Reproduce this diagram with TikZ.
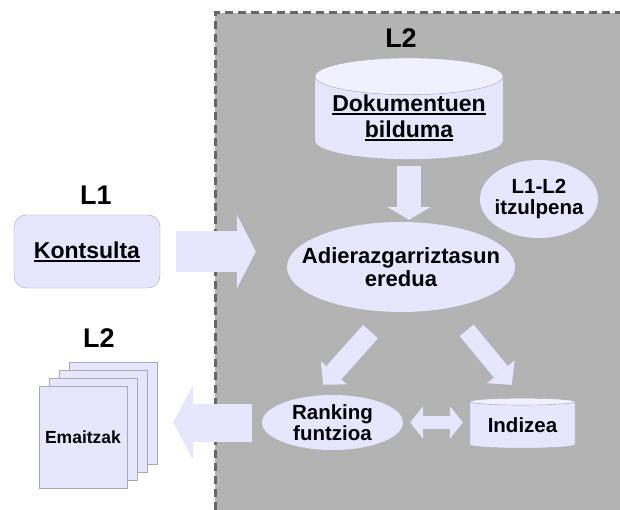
\documentclass[tikz,border=0pt]{standalone}
\usepackage{fontspec}
\setsansfont{Liberation Sans}
\usetikzlibrary{shapes.geometric,arrows.meta,calc}
\definecolor{lavblue}{RGB}{230,230,255}
\definecolor{lavtop}{RGB}{240,240,255}
\definecolor{areagray}{RGB}{179,179,179}
\definecolor{dashgray}{RGB}{102,102,102}
\definecolor{edgegray}{RGB}{170,170,170}
\newcommand{\zw}[1]{\makebox[0pt]{#1}}
\newcommand{\undl}[1]{\setbox0\hbox{#1}\rlap{\rule[-3.5pt]{\wd0}{1.8pt}}\box0}
\tikzset{
    title/.style = {font=\sffamily\bfseries\fontsize{27}{30}\selectfont},
    bigtxt/.style = {font=\sffamily\bfseries\fontsize{23}{26}\selectfont},
    midtxt/.style = {font=\sffamily\bfseries\fontsize{20.5}{21.5}\selectfont},
    bubble/.style = {ellipse, fill=lavblue, inner sep=0pt, align=center, midtxt},
    dbcyl/.style = {cylinder, shape border rotate=90, draw=edgegray, thin,
        cylinder uses custom fill, cylinder body fill=lavblue,
        cylinder end fill=lavtop, inner sep=0pt, align=center},
    page/.style = {rectangle, fill=lavblue, draw=edgegray,
        minimum width=88pt, minimum height=102pt, inner sep=0pt},
    blockarrow/.style n args = {3}{draw=lavblue, line width=#1,
        -{Triangle[width=#2, length=#3, line width=0pt]}},
    twoarrow/.style n args = {3}{draw=lavblue, line width=#1,
        {Triangle[width=#2, length=#3, line width=0pt]}-{Triangle[width=#2, length=#3, line width=0pt]}}
}
\begin{document}
\begin{tikzpicture}[x=1pt, y=-1pt]
    \useasboundingbox (0,0) rectangle (620,510);
    % L2 side
    \fill[areagray] (215,13) rectangle (620,510);
    \draw[dashgray, line width=3pt, dash pattern=on 8pt off 5pt] (215,510) -- (215,13) -- (620,13);
    \node[title] (l2top) at (401,38) {L2};
    \node[dbcyl, bigtxt, minimum width=188pt, minimum height=100pt, aspect=0.24] (bilduma) at (409,118)
        {\undl{Dokumentuen}\\\undl{bilduma}};
    \node[bubble, font=\sffamily\bfseries\fontsize{22}{23}\selectfont,
        minimum width=228pt, minimum height=90pt] (eredua) at (401,267)
        {\zw{Adierazgarriztasun}\\\zw{eredua}};
    \node[bubble, minimum width=118pt, minimum height=78pt] (itzulpena) at (539,199)
        {\zw{L1-L2}\\\zw{itzulpena}};
    \node[bubble, minimum width=141pt, minimum height=55pt] (ranking) at (332.5,422.5)
        {\zw{Ranking}\\\zw{funtzioa}};
    \node[dbcyl, midtxt, minimum width=105pt, minimum height=50pt, aspect=0.1] (indizea) at (522.5,425)
        {Indizea};
    % L1 side
    \node[title] (l1) at (96,195) {L1};
    \node[rectangle, rounded corners=12pt, fill=lavblue, draw=edgegray, bigtxt,
        minimum width=146pt, minimum height=73pt] (kontsulta) at (87,251.5) {\undl{Kontsulta}};
    \node[title] (l2left) at (99,338) {L2};
    \foreach \i in {3,2,1}
        \node[page] (page\i) at ({83+10*\i},{437-8*\i}) {};
    \node[page, font=\sffamily\bfseries\fontsize{17.5}{20}\selectfont] (emaitzak) at (83,437) {Emaitzak};
    % block arrows
    \draw[blockarrow={40pt}{74pt}{19pt}, shorten <=16pt, shorten >=31pt] (kontsulta.east) -- (kontsulta.east -| eredua.west);
    \draw[blockarrow={24pt}{44pt}{13pt}, shorten <=6pt, shorten >=2pt] (bilduma.south) -- (bilduma.south |- eredua.north);
    \draw[blockarrow={20pt}{35pt}{16pt}, shorten <=26.5pt, shorten >=15pt] (eredua.-106.6) -- (ranking.126.9);
    \draw[blockarrow={18pt}{36pt}{17pt}, shorten <=28.8pt, shorten >=17pt] (eredua.-41.9) -- (indizea.north);
    \draw[blockarrow={38pt}{75pt}{20pt}, shorten <=10pt, shorten >=16pt] (ranking.west) -- (ranking.west -| page3.east);
    \draw[twoarrow={13pt}{33pt}{13pt}, shorten <=7pt, shorten >=7pt] (ranking.east) -- (ranking.east -| indizea.west);
\end{tikzpicture}
\end{document}
